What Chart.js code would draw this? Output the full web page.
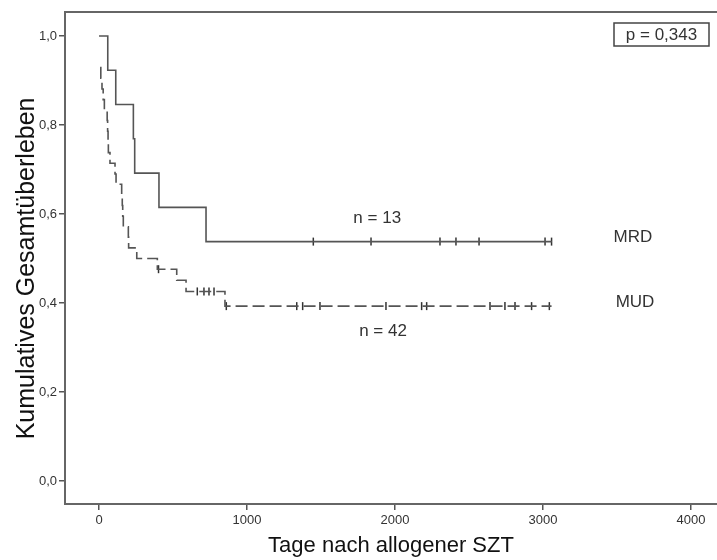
<!DOCTYPE html>
<html>
<head>
<meta charset="utf-8">
<script src="https://cdn.jsdelivr.net/npm/chart.js@4.4.1/dist/chart.umd.min.js"></script>
<style>
  html, body { margin: 0; padding: 0; background: #fff; }
</style>
</head>
<body>
<canvas id="kmChart" width="717" height="560"></canvas>
<script>
// MRD (n = 13): step days and survival after each step
const mrdDays = [0, 59, 113, 232, 241, 405, 723, 3060];
const mrdSurv = [1.0, 0.923, 0.846, 0.769, 0.692, 0.615, 0.538, 0.538];
const mrdCensored = [1448, 1838, 2304, 2412, 2568, 3014, 3058];

// MUD (n = 42)
const mudDays = [7, 12, 20, 28, 36, 55, 58, 61, 63, 74, 108, 115, 153, 157, 160, 164, 198, 200, 255, 394, 525, 588, 851, 3058];
const mudSurv = [0.929, 0.905, 0.881, 0.857, 0.833, 0.810, 0.786, 0.762, 0.738, 0.714, 0.690, 0.667, 0.643, 0.619, 0.595, 0.571, 0.548, 0.524, 0.500, 0.476, 0.451, 0.426, 0.393, 0.393];
const mudCensored = [402, 664, 709, 743, 777, 860, 1336, 1376, 1493, 1939, 2180, 2214, 2642, 2743, 2811, 2923, 3043];

const xTicks = [0, 1000, 2000, 3000, 4000];
const xTickLabels = ['0', '1000', '2000', '3000', '4000'];
const yTicks = [0, 0.2, 0.4, 0.6, 0.8, 1.0];
const yTickLabels = ['0,0', '0,2', '0,4', '0,6', '0,8', '1,0'];

const FONT = "'Liberation Sans', Arial, sans-serif";
const lineColor = '#555';

// survival value of a curve at day t
function survAt(days, surv, t) {
  let s = surv[0];
  for (let i = 0; i < days.length; i++) {
    if (days[i] <= t) s = surv[i];
  }
  return s;
}

const toPoints = (days, surv) => days.map((d, i) => ({ x: d, y: surv[i] }));
const censorPoints = (cens, days, surv) => cens.map(t => ({ x: t, y: survAt(days, surv, t) }));

const textLabels = [
  { text: 'n = 13', x: 1880, y: 0.591 },
  { text: 'n = 42', x: 1919, y: 0.337 },
  { text: 'MRD', x: 3608, y: 0.548 },
  { text: 'MUD', x: 3622, y: 0.402 }
];

const extras = {
  id: 'extras',
  afterDraw(chart) {
    const { ctx, chartArea, scales } = chart;
    ctx.save();
    // top frame line
    ctx.strokeStyle = '#666';
    ctx.lineWidth = 2;
    ctx.beginPath();
    ctx.moveTo(chartArea.left - 1, chartArea.top);
    ctx.lineTo(chartArea.right, chartArea.top);
    ctx.stroke();

    ctx.fillStyle = '#333';
    ctx.font = '17px ' + FONT;
    ctx.textAlign = 'center';
    ctx.textBaseline = 'middle';
    textLabels.forEach(l => {
      ctx.fillText(l.text, scales.x.getPixelForValue(l.x), scales.y.getPixelForValue(l.y));
    });

    // p-value box
    ctx.fillStyle = '#fff';
    ctx.fillRect(614, 23, 95, 23);
    ctx.strokeStyle = '#444';
    ctx.lineWidth = 1.5;
    ctx.strokeRect(614, 23, 95, 23);
    ctx.fillStyle = '#333';
    ctx.fillText('p = 0,343', 661.5, 35);
    ctx.restore();
  }
};

const ctx = document.getElementById('kmChart').getContext('2d');

const kmChart = new Chart(ctx, {
  type: 'line',
  data: {
    datasets: [
      {
        label: 'MRD',
        data: toPoints(mrdDays, mrdSurv),
        stepped: true,
        borderColor: lineColor,
        borderWidth: 1.6,
        pointRadius: 0,
        fill: false
      },
      {
        label: 'MUD',
        data: toPoints(mudDays, mudSurv),
        stepped: true,
        borderColor: lineColor,
        borderWidth: 1.6,
        borderDash: [12, 5],
        pointRadius: 0,
        fill: false
      },
      {
        label: 'MRD zensiert',
        data: censorPoints(mrdCensored, mrdDays, mrdSurv),
        showLine: false,
        pointStyle: 'line',
        rotation: 90,
        pointRadius: 4,
        borderColor: '#333',
        pointBorderWidth: 1.5
      },
      {
        label: 'MUD zensiert',
        data: censorPoints(mudCensored, mudDays, mudSurv),
        showLine: false,
        pointStyle: 'line',
        rotation: 90,
        pointRadius: 4,
        borderColor: '#333',
        pointBorderWidth: 1.5
      }
    ]
  },
  options: {
    responsive: false,
    animation: false,
    layout: { autoPadding: false, padding: { top: 12, right: 0, left: 0, bottom: 0 } },
    plugins: {
      legend: { display: false },
      tooltip: { enabled: false }
    },
    scales: {
      x: {
        type: 'linear',
        min: -230,
        max: 4176,
        afterFit: s => { s.height = 56; s.paddingLeft = 0; s.paddingRight = 0; },
        afterBuildTicks: s => { s.ticks = xTicks.map(v => ({ value: v })); },
        grid: { drawOnChartArea: false, drawTicks: true, tickLength: 6, color: '#555', lineWidth: 1.5 },
        border: { display: true, color: '#666', width: 2 },
        ticks: {
          padding: 3,
          color: '#333',
          font: { family: FONT, size: 13 },
          maxRotation: 0,
          autoSkip: false,
          callback: (v, i) => xTickLabels[i]
        },
        title: {
          display: true,
          text: 'Tage nach allogener SZT',
          color: '#111',
          font: { family: FONT, size: 22 },
          padding: { top: 0, bottom: 1 }
        }
      },
      y: {
        type: 'linear',
        min: -0.0517,
        max: 1.054,
        afterFit: s => { s.width = 65; s.paddingTop = 0; s.paddingBottom = 0; },
        afterBuildTicks: s => { s.ticks = yTicks.map(v => ({ value: v })); },
        grid: { drawOnChartArea: false, drawTicks: true, tickLength: 6, color: '#555', lineWidth: 1.5 },
        border: { display: true, color: '#666', width: 2 },
        ticks: {
          padding: 2,
          color: '#333',
          font: { family: FONT, size: 13 },
          callback: (v, i) => yTickLabels[i]
        },
        title: {
          display: true,
          // trailing spaces nudge the rotated title slightly downward
          text: 'Kumulatives Gesamtüberleben   ',
          color: '#111',
          font: { family: FONT, size: 25 },
          padding: { top: 12, bottom: 0 }
        }
      }
    }
  },
  plugins: [extras]
});
</script>
</body>
</html>
